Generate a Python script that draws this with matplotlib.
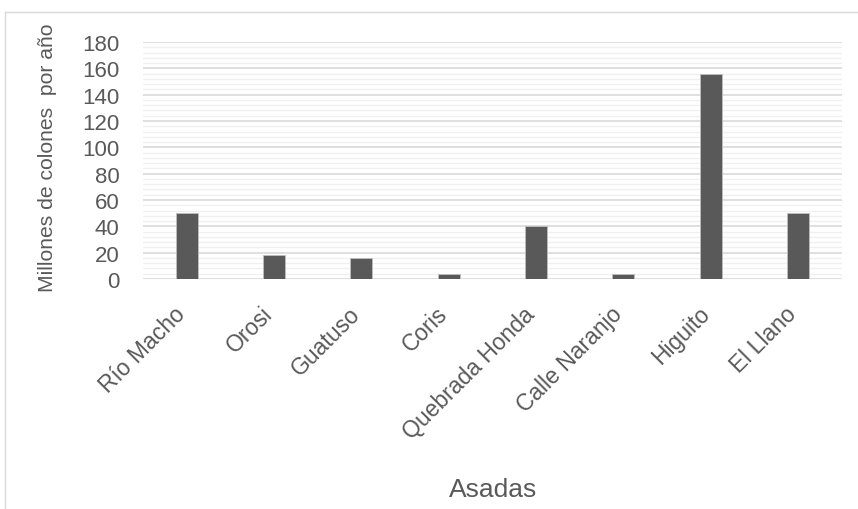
import matplotlib
matplotlib.use("Agg")
import matplotlib.pyplot as plt
from matplotlib.lines import Line2D
from matplotlib.transforms import ScaledTranslation
import numpy as np

categories = ["Río Macho", "Orosi", "Guatuso", "Coris", "Quebrada Honda",
              "Calle Naranjo", "Higuito", "El Llano"]
values = [50, 18, 16, 4, 40, 4, 156, 50]

plt.rcParams['font.family'] = ['Liberation Sans', 'DejaVu Sans']
txt = '#595959'

fig = plt.figure(figsize=(8.58, 5.10), dpi=100)
ax = fig.add_axes([0.1667, 0.451, 0.8143, 0.4647])

x = np.arange(len(categories))
ax.bar(x, values, width=0.25, color='#595959', edgecolor='#bfbfbf', linewidth=0.6, zorder=3)
ax.set_xlim(-0.5, len(categories) - 0.5)
ax.set_ylim(0, 180)
ax.set_yticks(np.arange(0, 181, 20))
ax.set_yticks(np.arange(0, 181, 4), minor=True)
ax.grid(axis='y', which='major', color='#d9d9d9', linewidth=1.2, zorder=0)
ax.grid(axis='y', which='minor', color='#f0f0f0', linewidth=1.0, zorder=0)
for s in ax.spines.values():
    s.set_visible(False)
ax.tick_params(axis='both', which='both', length=0, colors=txt)
ax.tick_params(axis='y', pad=17, labelsize=16)
ax.set_xticks(x)
ax.set_xticklabels(categories, rotation=45, ha='right', rotation_mode='anchor', fontsize=16.5)
ax.tick_params(axis='x', pad=10)
off = ScaledTranslation(-0.13, -0.09, fig.dpi_scale_trans)
for lab in ax.get_xticklabels():
    lab.set_transform(lab.get_transform() + off)

fig.text(0.055, 0.69, "Millones de colones  por año", rotation=90, ha='center', va='center',
         fontsize=15.2, color=txt)
fig.text(0.575, 0.04, "Asadas", ha='center', va='center', fontsize=19, color=txt)

fig.add_artist(Line2D([0.0058, 0.0058], [0.0, 0.9745], transform=fig.transFigure,
                      color='#d9d9d9', linewidth=1.0))
fig.add_artist(Line2D([0.0058, 1.0], [0.9745, 0.9745], transform=fig.transFigure,
                      color='#d9d9d9', linewidth=1.0))

fig.savefig("out.png", dpi=100)
